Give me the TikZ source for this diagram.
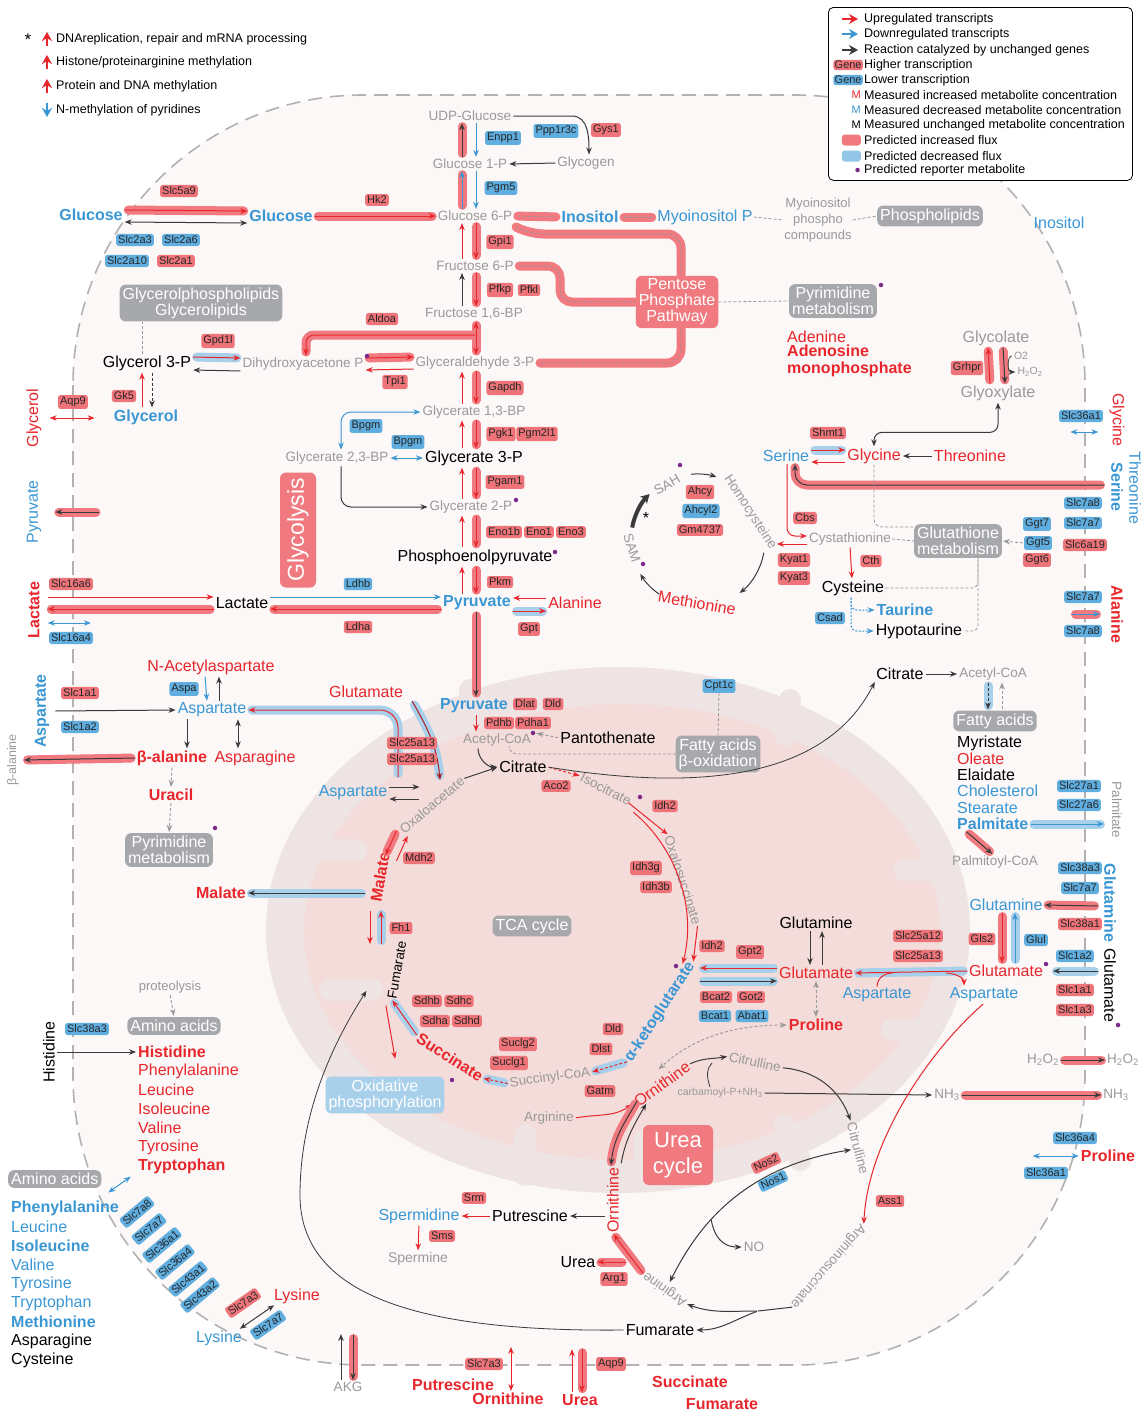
\documentclass[tikz,border=0pt]{standalone}
\usepackage{fontspec}
\setmainfont{Liberation Sans}
\usetikzlibrary{arrows.meta,positioning,calc}
\pgfdeclarelayer{front}
\pgfsetlayers{main,front}

\definecolor{upred}{HTML}{E8262C}
\definecolor{dnblue}{HTML}{3A97D4}
\definecolor{genered}{HTML}{EF7479}
\definecolor{geneblue}{HTML}{5FAEDF}
\definecolor{fluxred}{HTML}{F07A7F}
\definecolor{fluxblue}{HTML}{A9D0EB}
\definecolor{boxgray}{HTML}{A6A8AB}
\definecolor{metgray}{HTML}{999999}
\definecolor{darkarr}{HTML}{3A3A3A}
\definecolor{cellfill}{HTML}{FBF8F7}
\definecolor{mitoout}{HTML}{EEE4E3}
\definecolor{mitoin}{HTML}{F4DCDA}
\definecolor{refpurple}{HTML}{7B2A8A}

\tikzset{
  >={Stealth[length=7pt,width=5.5pt]},
  gene/.style={rounded corners=2.5pt, inner sep=2pt, text=black!85, font=\fontsize{11}{11}\selectfont},
  gup/.style={gene, fill=genered},
  gdn/.style={gene, fill=geneblue},
  met/.style={inner sep=1pt, font=\fontsize{16}{17}\selectfont},
  sm/.style={font=\fontsize{13.5}{15}\selectfont},
  mu/.style={met, text=upred},
  md/.style={met, text=dnblue},
  mk/.style={met, text=black},
  mg/.style={met, text=metgray},
  bf/.style={font=\fontsize{16}{17}\selectfont\bfseries},
  pbox/.style={fill=boxgray, text=white, rounded corners=6pt, align=center, inner sep=3pt, font=\fontsize{16}{16}\selectfont},
  rbox/.style={pbox, fill=fluxred},
  arr/.style={->, line width=1pt, shorten <=1pt, shorten >=1pt},
  aup/.style={arr, draw=upred},
  adn/.style={arr, draw=dnblue},
  ak/.style={arr, draw=darkarr},
  ag/.style={arr, draw=metgray, line width=0.9pt, dash pattern=on 3pt off 2pt},
  dl/.style={draw=metgray, line width=0.8pt, dash pattern=on 3pt off 2pt},
  br/.style={preaction={draw=fluxred, line width=9pt, line cap=round, -, shorten <=4.5pt, shorten >=4.5pt}},
  bb/.style={preaction={draw=fluxblue, line width=9pt, line cap=round, -, shorten <=4.5pt, shorten >=4.5pt}},
  pband/.style={draw=fluxred, line width=9pt, line cap=round, shorten <=4.5pt, shorten >=4.5pt,
    postaction={draw=metgray, line width=0.6pt, dash pattern=on 3pt off 2pt}},
  dot/.style={fill=refpurple, circle, inner sep=0pt, minimum size=4.5pt},
  lgtext/.style={anchor=west, inner sep=1pt, font=\fontsize{12.5}{13}\selectfont},
  lgarrow/.style={line width=2pt, >={Stealth[length=9pt,width=10pt]}},
}

\begin{document}
\begin{tikzpicture}[x=1pt, y=-1pt]
\useasboundingbox (0,0) rectangle (1146,1414);
\fill[white] (0,0) rectangle (1146,1414);

% cell and mitochondrion
\draw[draw=black!30, line width=1.6pt, dash pattern=on 14pt off 8pt, fill=cellfill, rounded corners=290pt] (73,95) rectangle (1085,1365);
\fill[mitoout] (618,930) ellipse [x radius=352, y radius=263];
\fill[mitoin] (622,932) ellipse [x radius=318, y radius=228];
\foreach \a/\b in {{330,990}/{372,990}, {322,850}/{356,850}, {470,690}/{470,722}, {790,700}/{785,735},
  {945,870}/{905,870}, {930,1030}/{892,1030}, {525,1175}/{525,1135}, {645,1180}/{645,1140}, {800,1160}/{785,1125}}
  \draw[mitoout, line width=22pt, line cap=round] (\a) -- (\b);

% ---------- legends
\node[font=\fontsize{17}{17}\selectfont] (lstar) at (28,40) {*};
\node[lgtext] (lg1) at (55,39) {DNAreplication, repair and mRNA processing};
\node[lgtext] (lg2) at (55,62) {Histone/proteinarginine methylation};
\node[lgtext] (lg3) at (55,86) {Protein and DNA methylation};
\node[lgtext] (lg4) at (55,110) {N-methylation of pyridines};
\foreach \l in {lg1,lg2,lg3}
  \draw[aup, lgarrow] ([xshift=-8pt,yshift=-8pt]\l.west) -- ([xshift=-8pt,yshift=8pt]\l.west);
\draw[adn, lgarrow] ([xshift=-8pt,yshift=8pt]lg4.west) -- ([xshift=-8pt,yshift=-8pt]lg4.west);

\node[draw=black, fill=white, line width=0.8pt, rounded corners=5pt, minimum width=304pt, minimum height=173pt, anchor=north west] (legbox) at (828,7) {};
\node[lgtext] (lr1) at (863,19) {Upregulated transcripts};
\node[lgtext] (lr2) at (863,34) {Downregulated transcripts};
\node[lgtext] (lr3) at (863,50) {Reaction catalyzed by unchanged genes};
\node[lgtext] (lr4) at (863,65) {Higher transcription};
\node[lgtext] (lr5) at (863,80) {Lower transcription};
\node[lgtext] (lr6) at (863,95) {Measured increased metabolite concentration};
\node[lgtext] (lr7) at (863,110) {Measured decreased metabolite concentration};
\node[lgtext] (lr8) at (863,125) {Measured unchanged metabolite concentration};
\node[lgtext] (lr9) at (863,140) {Predicted increased flux};
\node[lgtext] (lr10) at (863,156) {Predicted decreased flux};
\node[lgtext] (lr11) at (863,170) {Predicted reporter metabolite};
\draw[aup, lgarrow, line width=1.3pt] ([xshift=-22pt]lr1.west) -- ([xshift=-4pt]lr1.west);
\draw[adn, lgarrow, line width=1.3pt] ([xshift=-22pt]lr2.west) -- ([xshift=-4pt]lr2.west);
\draw[ak, lgarrow, line width=1.3pt] ([xshift=-22pt]lr3.west) -- ([xshift=-4pt]lr3.west);
\node[gup, anchor=east, inner sep=1.2pt] (lgg1) at (lr4.west) {Gene};
\node[gdn, anchor=east, inner sep=1.2pt] (lgg2) at (lr5.west) {Gene};
\node[anchor=east, inner sep=1pt, text=upred, font=\fontsize{11}{11}\selectfont] (lm1) at ([xshift=-1pt]lr6.west) {M};
\node[anchor=east, inner sep=1pt, text=dnblue, font=\fontsize{11}{11}\selectfont] (lm2) at ([xshift=-1pt]lr7.west) {M};
\node[anchor=east, inner sep=1pt, font=\fontsize{11}{11}\selectfont] (lm3) at ([xshift=-1pt]lr8.west) {M};
\node[fill=fluxred, rounded corners=3pt, minimum width=19pt, minimum height=11pt, inner sep=0pt, anchor=east] (lf1) at ([xshift=-2pt]lr9.west) {};
\node[fill=fluxblue!80!dnblue, rounded corners=3pt, minimum width=19pt, minimum height=11pt, inner sep=0pt, anchor=east] (lf2) at ([xshift=-2pt]lr10.west) {};
\node[dot, anchor=east] (ld) at ([xshift=-3pt]lr11.west) {};

% ---------- gene boxes (front layer)
\begin{pgfonlayer}{front}
\foreach \n/\t/\x/\y in {g5a9/Slc5a9/179/191, g2a1/Slc2a1/176/261, ghk2/Hk2/377/200, ggys/Gys1/606/130,
  ggpi/Gpi1/500/242, gpfkp/Pfkp/500/290, gpfkl/Pfkl/529/290, galdoa/Aldoa/382/319, ggpd/Gpd1l/218/341,
  gtpi/Tpi1/395/382, ggk5/Gk5/124/396, gaqp/Aqp9/73/402, ggapdh/Gapdh/505/388, gpgk/Pgk1/501/434,
  gpgm2/Pgm2l1/537/434, gpgam/Pgam1/505/482, geno1b/Eno1b/504/532, geno1/Eno1/539/532, geno3/Eno3/571/532,
  gpkm/Pkm/500/582, gldha/Ldha/358/627, g16a6/Slc16a6/71/584, ggpt/Gpt/529/629, gdlat/Dlat/525/704,
  gdld/Dld/553/704, gpdhb/Pdhb/499/723, gpdha/Pdha1/533/723, g25a13a/Slc25a13/412/743, g25a13b/Slc25a13/412/759,
  g1a1/Slc1a1/80/693, gaco/Aco2/556/786, gidh2a/Idh2/665/806, gidh3g/Idh3g/646/868, gidh3b/Idh3b/656/887,
  gidh2b/Idh2/712/946, ggpt2/Gpt2/750/952, gbcat2/Bcat2/716/997, ggot2/Got2/751/997, gdld2/Dld/613/1029,
  gdlst/Dlst/601/1049, gsuclg2/Suclg2/518/1044, gsuclg1/Suclg1/509/1063, gsdhb/Sdhb/427/1001,
  gsdhc/Sdhc/459/1001, gsdha/Sdha/435/1021, gsdhd/Sdhd/467/1021, gfh/Fh1/401/928, gmdh/Mdh2/419/858,
  gatm/Gatm/600/1091, gsrm/Srm/474/1198, gsms/Sms/442/1236, garg1/Arg1/614/1279, gass1/Ass1/890/1201,
  g7a3b/Slc7a3/484/1364, gaqp2/Aqp9/611/1364, g25a12/Slc25a12/918/936, g25a13c/Slc25a13/918/956,
  ggls/Gls2/982/939, g38a1/Slc38a1/1080/924, g1a1b/Slc1a1/1075/990, g1a3/Slc1a3/1075/1010,
  ggrhpr/Grhpr/967/368, gshmt/Shmt1/828/433, g6a19/Slc6a19/1085/545, gcbs/Cbs/805/518,
  gkyat1/Kyat1/794/560, gkyat3/Kyat3/794/578, gcth/Cth/871/561, gggt6/Ggt6/1037/560,
  gahcy/Ahcy/700/492, ggm/Gm4737/700/530}
  \node[gup] (\n) at (\x,\y) {\t};
\foreach \n/\t/\x/\y in {g2a3/Slc2a3/135/240, g2a6/Slc2a6/181/240, g2a10/Slc2a10/127/261,
  genpp/Enpp1/503/138, gppp/Ppp1r3c/556/131, gpgm5/Pgm5/501/188, gbpgm1/Bpgm/366/426, gbpgm2/Bpgm/408/442,
  gldhb/Ldhb/358/584, g16a4/Slc16a4/71/638, gcpt/Cpt1c/719/686, gaspa/Aspa/184/689, g1a2/Slc1a2/80/727,
  gbcat1/Bcat1/715/1016, gabat/Abat1/752/1016, g38a3a/Slc38a3/87/1029, g36a4/Slc36a4/1075/1138,
  g36a1b/Slc36a1/1046/1173, gglul/Glul/1036/940, g38a3b/Slc38a3/1080/868, g7a7d/Slc7a7/1080/888,
  g1a2b/Slc1a2/1075/956, g27a1/Slc27a1/1079/786, g27a6/Slc27a6/1079/805, g36a1a/Slc36a1/1081/416,
  g7a8a/Slc7a8/1083/503, g7a7a/Slc7a7/1083/523, gggt7/Ggt7/1037/524, gggt5/Ggt5/1038/543,
  gcsad/Csad/830/618, g7a7b/Slc7a7/1083/597, g7a8b/Slc7a8/1083/631, gahcyl/Ahcyl2/701/511}
  \node[gdn] (\n) at (\x,\y) {\t};
\foreach \n/\t/\x/\y in {gr1/Slc7a8/137/1212, gr2/Slc7a7/149/1229, gr3/Slc36a1/162/1245,
  gr4/Slc36a4/175/1262, gr5/Slc43a1/188/1279, gr6/Slc43a2/200/1295}
  \node[gdn, rotate=40] (\n) at (\x,\y) {\t};
\node[gup, rotate=35] (g7a3c) at (243,1303) {Slc7a3};
\node[gdn, rotate=35] (g7a7c) at (268,1325) {Slc7a7};
\node[gup, rotate=25] (gnos2) at (766,1163) {Nos2};
\node[gdn, rotate=25] (gnos1) at (773,1181) {Nos1};
\end{pgfonlayer}

% ---------- glucose and glycolysis
\node[md, bf] (glucose1) at (91,215) {Glucose};
\node[md, bf] (glucose2) at (281,216) {Glucose};
\node[mg, sm] (udpglc) at (470,116) {UDP-Glucose};
\node[mg, sm] (glc1p) at (470,164) {Glucose 1-P};
\node[mg, sm] (glycogen) at (586,163) {Glycogen};
\node[mg, sm] (glc6p) at (475,216) {Glucose 6-P};
\node[mg, sm] (f6p) at (475,266) {Fructose 6-P};
\node[mg, sm] (f16bp) at (474,314) {Fructose 1,6-BP};
\node[mg, sm] (gap) at (475,363) {Glyceraldehyde 3-P};
\node[mg, sm] (dhap) at (303,364) {Dihydroxyacetone P};
\node[mg, sm] (bpg13) at (474,412) {Glycerate 1,3-BP};
\node[mg, sm] (bpg23) at (337,458) {Glycerate 2,3-BP};
\node[mk] (pg3) at (474,458) {Glycerate 3-P};
\node[mg, sm] (pg2) at (471,507) {Glycerate 2-P};
\node[mk] (pep) at (475,557) {Phosphoenolpyruvate};
\node[md, bf] (pyr) at (477,603) {Pyruvate};
\node[rbox, rotate=90, minimum width=115pt, minimum height=36pt, font=\fontsize{23}{23}\selectfont] (glyco) at (298,530) {Glycolysis};

\coordinate (cl) at (462,0);
\coordinate (cr) at (476,0);
\draw[ak, br] (cl|-glc1p.north) -- (cl|-udpglc.south);
\draw[adn] (cr|-udpglc.south) -- (cr|-glc1p.north);
\draw[adn, br] (cl|-glc6p.north) -- (cl|-glc1p.south);
\draw[adn] (cr|-glc1p.south) -- (cr|-glc6p.north);
\draw[aup] (cl|-f6p.north) -- (cl|-glc6p.south);
\draw[aup, br] (cr|-glc6p.south) -- (cr|-f6p.north);
\draw[ak] (cl|-f16bp.north) -- (cl|-f6p.south);
\draw[aup, br] (cr|-f6p.south) -- (cr|-f16bp.north);
\draw[aup, <->, br] (cr|-f16bp.south) -- (cr|-gap.north);
\foreach \a/\b in {gap/bpg13, bpg13/pg3, pg3/pg2, pg2/pep, pep/pyr}{
  \draw[aup] (cl|-\b.north) -- (cl|-\a.south);
  \draw[aup, br] (cr|-\a.south) -- (cr|-\b.north);
}
\draw[ak] (udpglc.east) -- (572,116) to[out=0,in=90] ([xshift=3pt]glycogen.north);
\draw[ak] (glycogen.west) -- (glc1p.east);

\draw[aup, br] ([yshift=5pt]glucose1.east) -- ([yshift=5pt]glucose2.west);
\draw[ak, <->] ([yshift=-7pt]glucose1.east) -- ([yshift=-7pt]glucose2.west);
\draw[aup, br] (glucose2.east) -- (glc6p.west);

% inositol and pentose phosphate
\node[md, bf] (inos) at (590,217) {Inositol};
\node[md] (myop) at (705,217) {Myoinositol P};
\node[mg, align=center, font=\fontsize{13}{16}\selectfont] (myopc) at (818,220) {Myoinositol\\phospho\\compounds};
\node[pbox] (phlip) at (930,216) {Phospholipids};
\node[md] (inosout) at (1059,223) {Inositol};
\draw[pband] (glc6p.east) -- (inos.west);
\draw[pband] (inos.east) -- (myop.west);
\draw[dl] (myop.east) -- (myopc.west);
\draw[dl] (myopc.east) -- (phlip.west);
\draw[pband, rounded corners=14pt] (512,225) -- (530,234) -- (681,234) -- (681,363) -- (gap.east);
\draw[pband, rounded corners=12pt] (f6p.east) -- (560,266) -- (560,302) -- (640,302);
\node[rbox, font=\fontsize{16}{16}\selectfont] (ppp) at (677,302) {Pentose\\Phosphate\\Pathway};
\node[pbox] (pyrmet1) at (833,301) {Pyrimidine\\metabolism};
\node[dot] (dpm1) at (881,285) {};
\draw[dl] (ppp.east) -- (pyrmet1.west);
\node[mu, anchor=west] (adenine) at (786,337) {Adenine};
\node[mu, bf, anchor=west, align=left] (amp) at (786,361) {Adenosine\\monophosphate};

% glycerol branch
\node[pbox] (gpl) at (201,303) {Glycerolphospholipids\\Glycerolipids};
\node[mk] (g3p) at (147,363) {Glycerol 3-P};
\node[md, bf] (glyc) at (146,417) {Glycerol};
\node[mu, rotate=90] (glycout) at (34,418) {Glycerol};
\coordinate (g3pt) at ([xshift=-5pt]g3p.north);
\draw[dl] (g3pt) -- (g3pt |- gpl.south);
\draw[aup, bb] ([yshift=6pt]g3p.east) -- ([yshift=6pt]dhap.west);
\draw[ak] ([yshift=-7pt]dhap.west) -- ([yshift=-7pt]g3p.east);
\draw[aup, br] ([yshift=6pt]dhap.east) -- ([yshift=6pt]gap.west);
\draw[aup] ([yshift=-6pt]gap.west) -- ([yshift=-6pt]dhap.east);
\coordinate (aldj) at (476,335);
\draw[aup, br, rounded corners=8pt] (aldj) -| ([xshift=3pt]dhap.north);
\node[dot] (ddhap) at (367,356) {};
\draw[aup] ([xshift=-4pt]glyc.north) -- ([xshift=-5pt]g3p.south);
\draw[ak, dash pattern=on 3pt off 2pt] ([xshift=5pt]g3p.south) -- ([xshift=6pt]glyc.north);
\draw[aup, <->] ([xshift=6pt]glycout.south) -- ++(47,0);

% glycerate side
\draw[adn, <->, rounded corners=10pt] ([xshift=4pt]bpg23.north) |- (bpg13.west);
\draw[adn, <->] (bpg23.east) -- (pg3.west);
\draw[ak, rounded corners=10pt] ([xshift=4pt]bpg23.south) |- (pg2.west);
\node[dot] (dpg2) at (516,500) {};
\node[dot] (dpep) at (555,552) {};

% lactate, pyruvate, alanine
\node[mk] (lac) at (242,603) {Lactate};
\node[mu, bf, rotate=90] (lacout) at (34,610) {Lactate};
\node[md, rotate=90] (pyrout) at (34,512) {Pyruvate};
\node[mu] (ala) at (575,603) {Alanine};
\draw[adn] ([yshift=6pt]lac.east) -- ([yshift=6pt]pyr.west);
\draw[aup, br] ([yshift=-6pt]pyr.west) -- ([yshift=-6pt]lac.east);
\draw[aup] ([xshift=6pt,yshift=13pt]lacout.south) -- ([yshift=6pt]lac.west);
\draw[aup, br] ([yshift=-6pt]lac.west) -- ([xshift=6pt,yshift=1pt]lacout.south);
\draw[adn, <->] ([xshift=6pt,yshift=-13pt]lacout.south) -- ++(45,0);
\draw[ak, br] ([xshift=58pt]pyrout.south) -- ([xshift=12pt]pyrout.south);
\draw[aup] ([yshift=5pt]ala.west) -- ([yshift=5pt]pyr.east);
\draw[aup, bb] ([yshift=-8pt]pyr.east) -- ([yshift=-8pt]ala.west);

% ---------- mitochondrion: pyruvate to citrate
\node[md, bf] (pyrm) at (474,706) {Pyruvate};
\draw[ak, br] (cr|-pyr.south) -- (cr|-pyrm.north);
\node[mg, sm] (acoa) at (497,740) {Acetyl-CoA};
\node[dot] (dacoa) at (533,733) {};
\node[mk] (panto) at (608,738) {Pantothenate};
\node[pbox] (fabox) at (718,754) {Fatty acids\\β-oxidation};
\node[mk] (cit) at (523,767) {Citrate};
\draw[aup] (cr|-pyrm.south) -- (cr|-acoa.north);
\draw[ag] (panto.west) -- (dacoa.east);
\draw[dl] (gcpt.south) -- (fabox.north);
\draw[dl, rounded corners=8pt] ([xshift=12pt]acoa.south) |- (fabox.west);
\draw[ak] ([xshift=-19pt]acoa.south) to[out=-90,in=180] (cit.west);

% TCA cycle
\coordinate (tcac) at (535,928);
\node[pbox] (tca) at (532,926) {TCA cycle};
\node[mg, sm, rotate=40] (oaa) at (432,805) {Oxaloacetate};
\node[mg, sm, rotate=-27] (isocit) at (606,789) {Isocitrate};
\node[mg, sm, rotate=-72] (oxsuc) at (683,880) {Oxalosuccinate};
\node[md, bf, rotate=57] (akg) at (660,1012) {α-ketoglutarate};
\node[mg, sm, rotate=8] (succoa) at (550,1078) {Succinyl-CoA};
\node[mu, bf, rotate=-33] (succ) at (450,1057) {Succinate};
\node[mk, sm, rotate=80] (fum) at (397,970) {Fumarate};
\node[mu, bf, rotate=80] (mal) at (380,877) {Malate};
\node[dot] (disoc) at (640,797) {};
\node[dot] (dakg) at (676,966) {};
\node[dot] (dsucc) at (452,1080) {};
\draw[ak] (oaa.east) -- (cit.west);
\draw[aup, dash pattern=on 3pt off 2pt] (cit.east) -- (isocit.west);
\draw[aup] ([xshift=-4pt]isocit.east) -- (oxsuc.west);
\draw[aup] ($(tcac)+(-50:152)$) arc[start angle=-50, end angle=14, radius=152];
\draw[aup] (oxsuc.east) -- ([xshift=1pt]akg.east);
\draw[aup, bb, dash pattern=on 3pt off 2pt] (akg.west) -- (succoa.east);
\draw[aup, bb, dash pattern=on 3pt off 2pt] (succoa.west) -- (succ.east);
\draw[aup, bb] (succ.west) -- (fum.west);
\draw[aup] ($(fum.west)+(-6,5)$) -- ($(succ.west)+(-22,24)$);
\coordinate (fhb) at (381,945);
\coordinate (fht) at (381,910);
\draw[aup, bb] (fhb) -- (fht);
\draw[aup] ($(fht)+(-11,0)$) -- ($(fhb)+(-11,0)$);
\coordinate (mdb) at (385,856);
\coordinate (mdt) at (397,830);
\draw[aup, br] (mdt) -- (mdb);
\draw[aup] ($(mdb)+(11,6)$) -- ($(mdt)+(11,5)$);

% glutamate / aspartate exchange
\node[mu] (glu1) at (366,692) {Glutamate};
\node[md] (asp1) at (212,710) {Aspartate};
\node[md] (asp2) at (353,793) {Aspartate};
\node[mu] (naa) at (211,667) {N-Acetylaspartate};
\node[md, bf, rotate=90] (aspout) at (42,711) {Aspartate};
\node[mu, bf] (bala) at (172,758) {β-alanine};
\node[mu] (asn) at (255,758) {Asparagine};
\node[mg, rotate=90, font=\fontsize{12.5}{12.5}\selectfont] (balaout) at (13,760) {β-alanine};
\node[mu, bf] (uracil) at (171,795) {Uracil};
\node[pbox] (pyrmet2) at (169,850) {Pyrimidine\\metabolism};
\node[dot] (dpm2) at (215,828) {};
\draw[aup, bb, rounded corners=18pt] (398,778) |- (asp1.east);
\draw[draw=upred!75!black, ->, line width=1pt, bb] ([xshift=8pt,yshift=-2pt]glu1.south east) to[out=-60,in=95] (440,780);
\draw[ak] ([yshift=6pt]asp2.east) -- ++(32,0);
\draw[ak] ($(asp2.east)+(32,6)$) -- ([yshift=-6pt]asp2.east);
\draw[adn] ([xshift=-6pt]naa.south) -- ([xshift=-5pt]asp1.north);
\draw[ak] ([xshift=7pt]asp1.north) -- ([xshift=8pt]naa.south);
\draw[ak] ([xshift=4pt]aspout.south) -- (asp1.west);
\draw[ak] ([xshift=-25pt]asp1.south) -- ([xshift=15pt]bala.north);
\draw[ak, <->] ([xshift=26pt]asp1.south) -- ([xshift=-17pt]asn.north);
\draw[ak, br] (bala.west) -- ([xshift=3pt]balaout.south);
\draw[ag] (bala.south) -- (uracil.north);
\draw[ag] (uracil.south) -- (pyrmet2.north);

\node[mu, bf] (malout) at (221,893) {Malate};
\coordinate (malin) at (366,893);
\draw[ak, bb] (malin) -- (malout.east);

% amino acids
\node[mg, font=\fontsize{13}{13}\selectfont] (proteo) at (170,987) {proteolysis};
\node[pbox] (aa1) at (174,1026) {Amino acids};
\node[mk, rotate=90] (hisout) at (49,1052) {Histidine};
\node[mu, bf, anchor=west] (his) at (137,1052) {Histidine};
\foreach \t/\y [count=\i] in {Phenylalanine/1071, Leucine/1090, Isoleucine/1109, Valine/1128, Tyrosine/1147}
  \node[mu, anchor=west] (aar\i) at (137,\y) {\t};
\node[mu, bf, anchor=west] (aar6) at (137,1166) {Tryptophan};
\draw[ag] (proteo.south) -- (aa1.north);
\draw[ak] (hisout.south) -- (his.west);

\node[pbox, anchor=west] (aa2) at (8,1179) {Amino acids};
\node[md, bf, anchor=west] (aab1) at (10,1208) {Phenylalanine};
\node[md, anchor=west] (aab2) at (10,1227) {Leucine};
\node[md, bf, anchor=west] (aab3) at (10,1246) {Isoleucine};
\node[md, anchor=west] (aab4) at (10,1265) {Valine};
\node[md, anchor=west] (aab5) at (10,1284) {Tyrosine};
\node[md, anchor=west] (aab6) at (10,1303) {Tryptophan};
\node[md, bf, anchor=west] (aab7) at (10,1322) {Methionine};
\node[mk, anchor=west] (aab8) at (10,1341) {Asparagine};
\node[mk, anchor=west] (aab9) at (10,1360) {Cysteine};
\draw[adn, <->] ([xshift=6pt,yshift=-5pt]aa2.south east) -- ++(24,-17);
\node[mu] (lysr) at (297,1296) {Lysine};
\node[md] (lysb) at (219,1338) {Lysine};
\draw[ak, <->] ([xshift=-4pt]lysb.north east) -- ([xshift=2pt]lysr.south west);
\node[pbox, fill=fluxblue] (oxphos) at (385,1095) {Oxidative\\phosphorylation};

% bottom exchanges
\node[mg, sm] (akgout) at (348,1387) {AKG};
\draw[ak] ([xshift=-7pt]akgout.north) -- ++(0,-48);
\draw[ak, br] ($(akgout.north)+(5,-47)$) -- ([xshift=5pt]akgout.north);
\node[mu, bf] (putout) at (453,1385) {Putrescine};
\node[mu, bf] (ornout) at (508,1399) {Ornithine};
\node[mu, bf] (ureaout) at (580,1400) {Urea};
\node[mu, bf] (succout) at (690,1382) {Succinate};
\node[mu, bf] (fumout) at (722,1404) {Fumarate};
\draw[aup, <->] ([xshift=3pt]ornout.north) -- ++(0,-46);
\draw[aup] ([xshift=-8pt]ureaout.north) -- ++(0,-45);
\draw[aup, br] ($(ureaout.north)+(2,-45)$) -- ([xshift=2pt]ureaout.north);

% ---------- glutamate and glutamine
\node[mk] (glnm) at (816,923) {Glutamine};
\node[mu] (glum) at (816,973) {Glutamate};
\node[mu, bf] (prolm) at (816,1025) {Proline};
\node[mu] (glur) at (1006,971) {Glutamate};
\node[md] (glnr) at (1006,905) {Glutamine};
\node[md] (aspc) at (877,995) {Aspartate};
\node[md] (aspr) at (984,995) {Aspartate};
\node[dot] (dglu) at (1046,964) {};
\coordinate (akg1) at (699,968);
\coordinate (akg2) at (699,981);
\draw[aup, bb] (glum.west |- akg1) -- (akg1);
\draw[ak, bb] (akg2) -- (glum.west |- akg2);
\draw[ak] ([xshift=-6pt]glnm.south) -- ([xshift=-6pt]glum.north);
\draw[ak] ([xshift=6pt]glum.north) -- ([xshift=6pt]glnm.south);
\draw[ag, <->] (glum.south) -- (prolm.north);
\draw[aup, bb] (glur.west) -- (glum.east);
\draw[upred, line width=1pt] (aspc.north) to[out=90,in=180] (892,973);
\draw[aup] (945,973) to[out=0,in=90] ([xshift=-20pt]aspr.north);
\draw[aup, br] ([xshift=-4pt]glnr.south) -- ([xshift=-4pt]glur.north);
\draw[adn, bb] ([xshift=9pt]glur.north) -- ([xshift=9pt]glnr.south);
\node[md, bf, rotate=-90] (glnout) at (1110,903) {Glutamine};
\node[mk, rotate=-90] (gluout) at (1110,985) {Glutamate};
\node[dot] (dgluo) at (1118,1025) {};
\draw[ak, br] ($(glnout.south)+(-4,3)$) -- (glnr.east);
\draw[ak, bb] ($(gluout.south)+(-4,-14)$) -- ([xshift=8pt]glur.east);
\node[mu, bf] (prolo) at (1108,1156) {Proline};
\draw[adn, <->] ($(prolo.west)+(-48,0)$) -- (prolo.west);

% ---------- urea cycle
\node[mu, rotate=36] (ornm) at (662,1084) {Ornithine};
\node[mg, sm] (argm) at (549,1118) {Arginine};
\node[mg, sm, rotate=-12] (citm) at (755,1062) {Citrulline};
\node[mg, font=\fontsize{10.5}{10.5}\selectfont] (carb) at (720,1093) {carbamoyl-P+NH\textsubscript{3}};
\node[mg, sm] (nh3) at (947,1095) {NH\textsubscript{3}};
\node[mg, sm] (nh3o) at (1116,1095) {NH\textsubscript{3}};
\node[mg, sm] (h2a) at (1043,1060) {H\textsubscript{2}O\textsubscript{2}};
\node[mg, sm] (h2b) at (1123,1060) {H\textsubscript{2}O\textsubscript{2}};
\node[mg, sm, rotate=-75] (citc) at (858,1148) {Citrulline};
\node[mg, sm, rotate=-131] (argsuc) at (828,1266) {Argininosuccinate};
\node[mg, sm, rotate=145] (argc) at (665,1289) {Arginine};
\node[mg, sm] (no) at (754,1247) {NO};
\node[mk] (fumc) at (660,1330) {Fumarate};
\node[mu, rotate=90] (ornc) at (613,1200) {Ornithine};
\node[rbox, font=\fontsize{22}{26}\selectfont, minimum width=70pt, minimum height=60pt] (ucyc) at (678,1155) {Urea\\cycle};
\node[mk] (put) at (530,1216) {Putrescine};
\node[md] (spd) at (419,1216) {Spermidine};
\node[mg, font=\fontsize{14}{15}\selectfont] (spm) at (418,1259) {Spermine};
\node[mk] (urea) at (578,1262) {Urea};

\coordinate (ornmt) at (658,1070);
\draw[ag, <->] (prolm.west) .. controls (730,1025) and (690,1040) .. (ornmt);
\draw[aup] (argm.east) to[out=10,in=215] ([xshift=-2pt]ornm.west);
\draw[ak] (ornm.east) to[out=25,in=190] (citm.west);
\draw[darkarr, line width=0.8pt] ([xshift=-10pt]carb.north) .. controls (706,1076) and (707,1068) .. (712,1063);
\draw[ak] (carb.east) -- (nh3.west);
\draw[ak, br] (nh3.east) -- (nh3o.west);
\draw[ak, br] (h2a.east) -- (h2b.west);
\draw[ak] (citm.east) to[out=-5,in=110] (citc.west);
\draw[aup] (aspr.south) .. controls (930,1050) and (868,1140) .. (argsuc.west);
\coordinate (nofork) at (711,1219);
\draw[ak, <->] (argc.south) .. controls (695,1232) and (738,1168) .. (citc.south);
\draw[ak] (nofork) .. controls (716,1245) and (730,1247) .. (no.west);
\coordinate (asfork) at (758,1311);
\draw[darkarr, line width=1pt] (argsuc.east) -- (asfork);
\draw[ak] (asfork) to[out=180,in=-20] (argc.west);
\draw[ak] (asfork) to[out=200,in=0] (fumc.east);
\coordinate (fumin) at (367,990);
\draw[ak, line width=0.8pt] (fumc.west) .. controls (430,1332) and (300,1300) .. (300,1195) .. controls (300,1110) and (335,1040) .. (fumin);
\draw[ak, br] ($(ornm.west)+(3,-4)$) to[out=240,in=85] ($(ornc.east)+(-2,0)$);
\draw[ak] ($(ornc.east)+(8,-2)$) to[out=80,in=240] ($(ornm.west)+(12,-1)$);
\draw[ak] (ornc.north |- put.east) -- (put.east);
\draw[aup] (put.west) -- (spd.east);
\draw[aup] (spd.south) -- (spm.north);
\draw[aup, br] (argc.east) -- (ornc.west);
\draw[aup, br] ($(urea.east)+(30,0)$) -- (urea.east);

% ---------- fatty acids and citrate export
\node[mk] (cito) at (900,674) {Citrate};
\node[mg, sm] (acoa2) at (993,674) {Acetyl-CoA};
\node[pbox] (fa2) at (995,721) {Fatty acids};
\draw[ak, line width=0.8pt] (cit.east) .. controls (720,795) and (830,770) .. (cito.south west);
\draw[ak] (cito.east) -- (acoa2.west);
\draw[ak, bb, dash pattern=on 3pt off 2pt] ([xshift=-5pt]acoa2.south) -- ([xshift=-7pt]fa2.north);
\draw[ag] ([xshift=7pt]fa2.north) -- ([xshift=9pt]acoa2.south);
\node[mk, anchor=west] (myr) at (956,743) {Myristate};
\node[mu, anchor=west] (ole) at (956,759) {Oleate};
\node[mk, anchor=west] (ela) at (956,775) {Elaidate};
\node[md, anchor=west] (chol) at (956,791) {Cholesterol};
\node[md, anchor=west] (stea) at (956,808) {Stearate};
\node[md, bf, anchor=west] (palm) at (956,824) {Palmitate};
\node[mg, sm] (palmcoa) at (995,862) {Palmitoyl-CoA};
\node[mg, sm, rotate=-90] (palmout) at (1117,810) {Palmitate};
\draw[adn, bb] (palm.east) -- ($(palmout.south)+(-6,14)$);
\draw[ak, br] ([xshift=-27pt]palm.south) -- ([xshift=-2pt]palmcoa.north);

% ---------- serine, glycine, sulfur
\node[mg] (glycol) at (996,338) {Glycolate};
\node[mg] (glyox) at (998,393) {Glyoxylate};
\node[mg, font=\fontsize{10.5}{10.5}\selectfont] (o2) at (1021,356) {O2};
\node[mg, font=\fontsize{10.5}{10.5}\selectfont] (h2o2g) at (1030,372) {H\textsubscript{2}O\textsubscript{2}};
\draw[aup, br] ([xshift=-8pt]glyox.north) -- ([xshift=-8pt]glycol.south);
\draw[ak, br] ([xshift=7pt]glycol.south) -- ([xshift=7pt]glyox.north);
\draw[ak, line width=0.8pt] (o2.west) .. controls (1007,356) and (1007,372) .. (h2o2g.west);
\node[md] (ser) at (786,456) {Serine};
\node[mu] (gly) at (874,456) {Glycine};
\node[mu] (thr) at (970,456) {Threonine};
\draw[ak, <->, rounded corners=8pt] (glyox.south) |- ($(gly.north)+(0,-15)$) -- (gly.north);
\draw[aup, bb] ([yshift=6pt]ser.east) -- ([yshift=6pt]gly.west);
\draw[aup] ([yshift=-6pt]gly.west) -- ([yshift=-6pt]ser.east);
\draw[ak] (thr.west) -- (gly.east);
\draw[ak, br, rounded corners=12pt] (1105,485) -| ([xshift=9pt]ser.south);
\node[mu, rotate=-90] (glyout) at (1117,420) {Glycine};
\node[md, bf, rotate=-90] (serout) at (1117,487) {Serine};
\node[md, rotate=-90] (throut) at (1135,488) {Threonine};
\node[mu, bf, rotate=-90] (alaout) at (1117,614) {Alanine};
\draw[adn, <->] ($(glyout.south)+(-39,12)$) -- ($(glyout.south)+(-9,12)$);
\draw[adn, br] ($(alaout.south)+(-39,0)$) -- ($(alaout.south)+(-9,0)$);

\node[mg, sm] (cysta) at (850,539) {Cystathionine};
\node[mk] (cys) at (853,588) {Cysteine};
\node[md, bf] (tau) at (905,610) {Taurine};
\node[mk] (hypot) at (919,631) {Hypotaurine};
\node[pbox] (gsh) at (958,541) {Glutathione\\metabolism};
\draw[aup, rounded corners=8pt] ([xshift=1pt]ser.south) |- ([yshift=3pt]cysta.west);
\draw[aup] ([yshift=-5pt]cysta.west) -- ++(-32,0);
\draw[aup] (cysta.south) -- ([xshift=-1pt]cys.north);
\draw[dl, rounded corners=8pt] (gly.south) |- ([yshift=14pt]gsh.west);
\draw[dl] (cysta.east) -- (gsh.west);
\draw[ag] (gggt5.west) -- (gsh.east);
\draw[dl, rounded corners=6pt] (cys.east) -| ([xshift=20pt]gsh.south);
\draw[dl, rounded corners=6pt] ([xshift=20pt]gsh.south) |- (hypot.east);
\draw[adn, dash pattern=on 2pt off 1.5pt, rounded corners=6pt] ([xshift=-2pt]cys.south) |- (tau.west);
\draw[adn, dash pattern=on 2pt off 1.5pt, rounded corners=6pt] ([xshift=-2pt]cys.south) |- (hypot.west);

% SAM cycle
\coordinate (sc) at (697,540);
\node[mg, sm, rotate=30] (sah) at (667,485) {SAH};
\node[mg, sm, rotate=-57] (hcy) at (750,512) {Homocysteine};
\node[mu, rotate=-10] (met) at (697,603) {Methionine};
\node[mg, sm, rotate=-72] (sam) at (632,548) {SAM};
\node[font=\fontsize{16}{16}\selectfont] (samstar) at (646,518) {*};
\node[dot] (dsah) at (680,465) {};
\node[dot] (dsam) at (643,564) {};
\draw[ak] ($(sc)+(-96:66)$) arc[start angle=-96, end angle=-72, radius=66];
\draw[ak] ($(sc)+(10:68)$) arc[start angle=10, end angle=52, radius=68];
\draw[ak] ($(sc)+(124:66)$) arc[start angle=124, end angle=150, radius=66];
\draw[ak, line width=4pt, >={Stealth[length=9pt,width=10pt]}] ($(sc)+(190:66)$) arc[start angle=190, end angle=225, radius=66];
\end{tikzpicture}
\end{document}
